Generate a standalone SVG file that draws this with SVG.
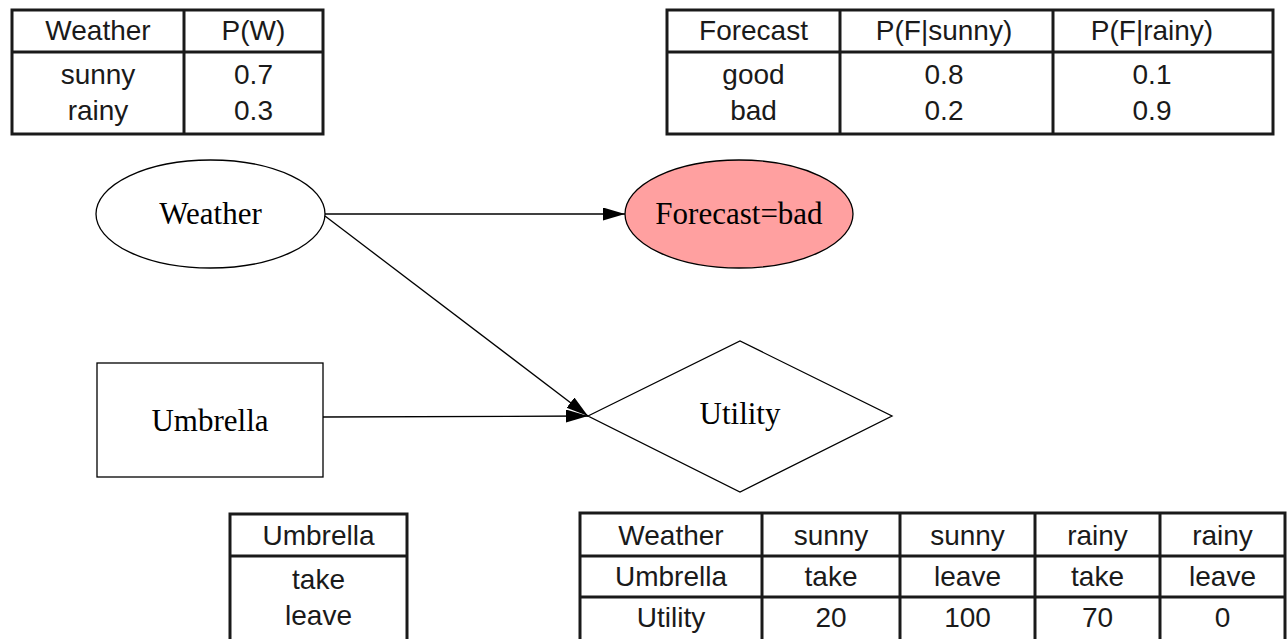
<svg xmlns="http://www.w3.org/2000/svg" width="1287" height="639" viewBox="0 0 1287 639">
<style>
.tb{fill:none;stroke:#1a1a1a;stroke-width:3}
.tl{stroke:#1a1a1a;stroke-width:3}
.tt{font-family:"Liberation Sans",Arial,sans-serif;font-size:28px;fill:#1a1a1a;text-anchor:middle}
.nd{stroke:#000;stroke-width:1.3}
.nt{font-family:"Liberation Serif","Times New Roman",serif;font-size:31px;fill:#000;text-anchor:middle}
.ed{stroke:#000;stroke-width:1.3;fill:none;marker-end:url(#ah)}
</style>
<defs>
<marker id="ah" markerUnits="userSpaceOnUse" markerWidth="24" markerHeight="14" refX="22" refY="6.5" orient="auto">
<path d="M0,0 L22,6.5 L0,13 Z" fill="#000"/>
</marker>
</defs>
<rect width="1287" height="639" fill="#fff"/>

<g id="table-weather">
<rect class="tb" x="12" y="10" width="311" height="124"/>
<line class="tl" x1="184" y1="10" x2="184" y2="134"/>
<line class="tl" x1="12" y1="52" x2="323" y2="52"/>
<text class="tt" x="98" y="40">Weather</text>
<text class="tt" x="253.5" y="40">P(W)</text>
<text class="tt" x="98" y="84">sunny</text>
<text class="tt" x="253.5" y="84">0.7</text>
<text class="tt" x="98" y="120">rainy</text>
<text class="tt" x="253.5" y="120">0.3</text>
</g>

<g id="table-forecast">
<rect class="tb" x="667" y="10" width="606" height="124"/>
<line class="tl" x1="840" y1="10" x2="840" y2="134"/>
<line class="tl" x1="1053" y1="10" x2="1053" y2="134"/>
<line class="tl" x1="667" y1="52" x2="1273" y2="52"/>
<text class="tt" x="753.5" y="40">Forecast</text>
<text class="tt" x="944" y="40">P(F|sunny)</text>
<text class="tt" x="1152" y="40">P(F|rainy)</text>
<text class="tt" x="753.5" y="84">good</text>
<text class="tt" x="944" y="84">0.8</text>
<text class="tt" x="1152" y="84">0.1</text>
<text class="tt" x="753.5" y="120">bad</text>
<text class="tt" x="944" y="120">0.2</text>
<text class="tt" x="1152" y="120">0.9</text>
</g>

<g id="table-umbrella">
<rect class="tb" x="230" y="514" width="177" height="127"/>
<line class="tl" x1="230" y1="556" x2="407" y2="556"/>
<text class="tt" x="318.5" y="545">Umbrella</text>
<text class="tt" x="318.5" y="589">take</text>
<text class="tt" x="318.5" y="625">leave</text>
</g>

<g id="table-utility">
<rect class="tb" x="580" y="513" width="705" height="128"/>
<line class="tl" x1="762" y1="513" x2="762" y2="641"/>
<line class="tl" x1="900" y1="513" x2="900" y2="641"/>
<line class="tl" x1="1035" y1="513" x2="1035" y2="641"/>
<line class="tl" x1="1160" y1="513" x2="1160" y2="641"/>
<line class="tl" x1="580" y1="556" x2="1285" y2="556"/>
<line class="tl" x1="580" y1="597" x2="1285" y2="597"/>
<text class="tt" x="671" y="545">Weather</text>
<text class="tt" x="831" y="545">sunny</text>
<text class="tt" x="967.5" y="545">sunny</text>
<text class="tt" x="1097.5" y="545">rainy</text>
<text class="tt" x="1222.5" y="545">rainy</text>
<text class="tt" x="671" y="586">Umbrella</text>
<text class="tt" x="831" y="586">take</text>
<text class="tt" x="967.5" y="586">leave</text>
<text class="tt" x="1097.5" y="586">take</text>
<text class="tt" x="1222.5" y="586">leave</text>
<text class="tt" x="671" y="627">Utility</text>
<text class="tt" x="831" y="627">20</text>
<text class="tt" x="967.5" y="627">100</text>
<text class="tt" x="1097.5" y="627">70</text>
<text class="tt" x="1222.5" y="627">0</text>
</g>

<g id="connectors">
<path class="ed" d="M325,214 L625,214"/>
<path class="ed" d="M325,216 L588,416"/>
<path class="ed" d="M323,417 L588,416"/>
</g>

<g id="node-weather">
<ellipse class="nd" cx="210.5" cy="214" rx="114.5" ry="54" fill="#fff"/>
<text class="nt" x="210.5" y="224">Weather</text>
</g>

<g id="node-forecast">
<ellipse class="nd" cx="739" cy="214" rx="114" ry="54" fill="#ffa0a0"/>
<text class="nt" x="739" y="224">Forecast=bad</text>
</g>

<g id="node-umbrella">
<rect class="nd" x="97" y="363" width="226" height="114" fill="#fff"/>
<text class="nt" x="210" y="431">Umbrella</text>
</g>

<g id="node-utility">
<polygon class="nd" points="588,416 740,341 892,416 740,492" fill="#fff"/>
<text class="nt" x="740" y="424">Utility</text>
</g>
</svg>
